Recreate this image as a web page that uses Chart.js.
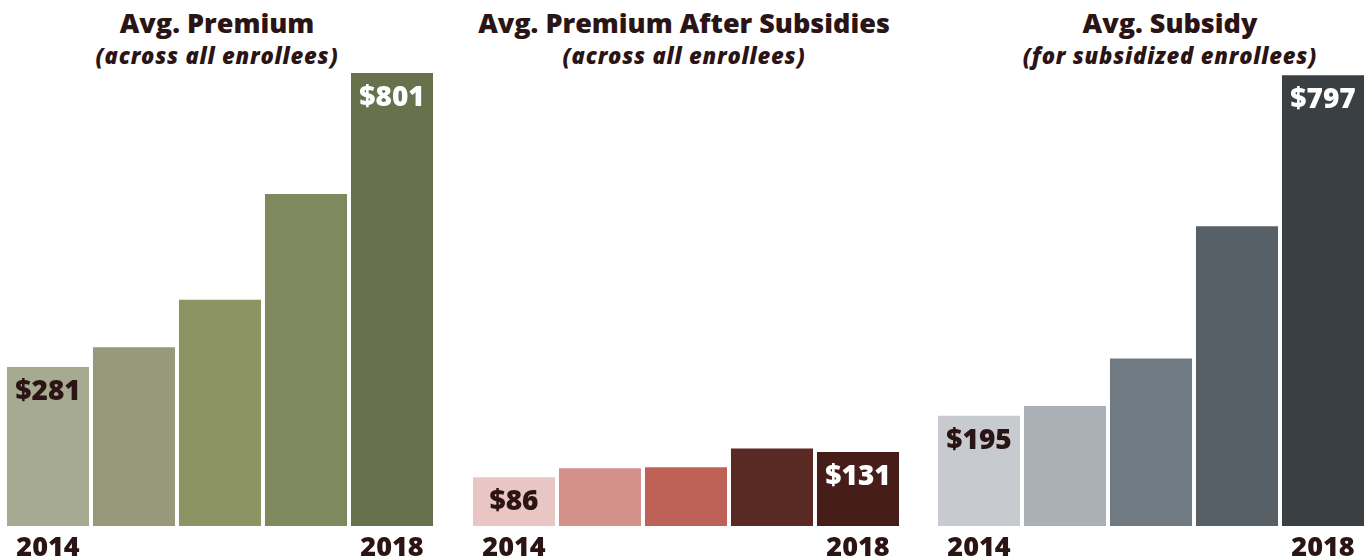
<!DOCTYPE html>
<html>
<head>
<meta charset="utf-8">
<script src="https://cdn.jsdelivr.net/npm/chart.js@4.4.1/dist/chart.umd.min.js"></script>
<style>
  html, body { margin: 0; padding: 0; background: #ffffff; width: 1369px; height: 558px; overflow: hidden; }
  body { position: relative; font-family: "Open Sans", sans-serif; color: #2b1414; }
  .title { position: absolute; width: 520px; text-align: center; top: 6px; }
  .title .main { font-size: 27px; font-weight: 800; line-height: 34px; white-space: nowrap; }
  .title .sub { font-size: 22px; font-weight: 800; font-style: italic; line-height: 30px; white-space: nowrap; letter-spacing: 0.8px; }
  canvas { position: absolute; top: 73px; }
</style>
</head>
<body>
<div class="title" id="t0"><div class="main"></div><div class="sub"></div></div>
<div class="title" id="t1"><div class="main"></div><div class="sub"></div></div>
<div class="title" id="t2"><div class="main"></div><div class="sub"></div></div>
<canvas id="c0" width="430" height="493"></canvas>
<canvas id="c1" width="430" height="493"></canvas>
<canvas id="c2" width="430" height="493"></canvas>
<script>
// ---- data ----
const years = ['2014', '2015', '2016', '2017', '2018'];
const avgPremium = [281, 316, 400, 587, 801];
const avgPremiumAfterSubsidies = [86, 102, 104, 137, 131];
const avgSubsidy = [195, 212, 296, 530, 797];

const panelTitles = ['Avg. Premium', 'Avg. Premium After Subsidies', 'Avg. Subsidy'];
const panelSubtitles = ['(across all enrollees)', '(across all enrollees)', '(for subsidized enrollees)'];

const premiumColors = ['#a6aa90', '#97997d', '#8b9462', '#7e895e', '#67714b'];
const afterSubsidyColors = ['#e9c6c3', '#d4918c', '#be6257', '#5a2924', '#461d19'];
const subsidyColors = ['#c7cbcf', '#aab0b6', '#6f7a83', '#575f67', '#3a3f43'];

// ---- layout ----
const panelLefts = [5, 471, 936];
const titleCenters = [217, 684, 1170];
const sharedMax = 801;
const darkText = '#2b1414';
const fontFamily = '"Open Sans", sans-serif';

const valueLabelPlugin = {
  id: 'valueLabels',
  afterDatasetsDraw(chart) {
    const ctx = chart.ctx;
    const ds = chart.data.datasets[0];
    const meta = chart.getDatasetMeta(0);
    const last = ds.data.length - 1;
    ctx.save();
    ctx.font = '800 28px ' + fontFamily;
    ctx.textAlign = 'center';
    ctx.textBaseline = 'middle';
    [0, last].forEach(i => {
      const el = meta.data[i];
      ctx.fillStyle = i === 0 ? darkText : '#ffffff';
      ctx.fillText('$' + ds.data[i], el.x, el.y + 25);
    });
    ctx.restore();
  }
};

function makeChart(idx, values, colors) {
  const t = document.getElementById('t' + idx);
  t.style.left = (titleCenters[idx] - 260) + 'px';
  t.querySelector('.main').textContent = panelTitles[idx];
  t.querySelector('.sub').textContent = panelSubtitles[idx];

  const canvas = document.getElementById('c' + idx);
  canvas.style.left = panelLefts[idx] + 'px';
  new Chart(canvas, {
    type: 'bar',
    data: {
      labels: years,
      datasets: [{
        data: values,
        backgroundColor: colors,
        borderWidth: 0,
        barPercentage: 0.954,
        categoryPercentage: 1.0
      }]
    },
    options: {
      responsive: false,
      animation: false,
      events: [],
      layout: { padding: 0 },
      plugins: { legend: { display: false }, tooltip: { enabled: false }, title: { display: false } },
      scales: {
        x: {
          grid: { display: false, drawTicks: false },
          border: { display: false },
          afterFit: (scale) => { scale.height = 40; },
          ticks: {
            autoSkip: false,
            maxRotation: 0,
            padding: 6,
            color: darkText,
            font: { family: fontFamily, size: 27, weight: 800 },
            callback: function(val, i) { return (i === 0 || i === years.length - 1) ? years[i] : ''; }
          }
        },
        y: { display: false, min: 0, max: sharedMax }
      }
    },
    plugins: [valueLabelPlugin]
  });
}

makeChart(0, avgPremium, premiumColors);
makeChart(1, avgPremiumAfterSubsidies, afterSubsidyColors);
makeChart(2, avgSubsidy, subsidyColors);
</script>
</body>
</html>
